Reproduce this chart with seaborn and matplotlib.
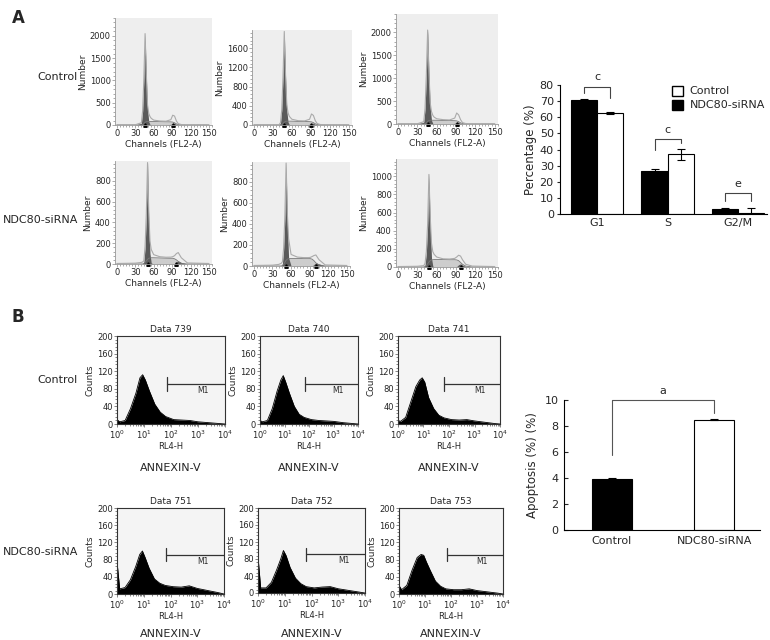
import numpy as np
import pandas as pd
import seaborn as sns
import matplotlib.pyplot as plt
from matplotlib.patches import Patch
from matplotlib.ticker import MultipleLocator, LogLocator, NullFormatter

# ---- cell cycle histograms (panel A), channel grid shared by all six
ch = [0, 30, 40, 42, 44, 46, 48, 50, 52, 54, 56, 60, 70, 80, 88, 91, 94, 97, 100, 105, 115, 150]

ctrl1_total = [5, 5, 50, 320, 1050, 2050, 1150, 450, 260, 190, 150, 110, 90, 85, 120, 220, 200, 90, 30, 10, 5, 5]
ctrl1_dip = [0, 0, 40, 300, 1000, 2050, 1100, 350, 80, 10, 0, 0, 0, 0, 15, 40, 35, 10, 0, 0, 0, 0]
ctrl1_s = [0, 0, 0, 5, 30, 60, 75, 80, 80, 80, 80, 80, 75, 72, 70, 65, 50, 25, 10, 0, 0, 0]

ctrl2_total = [5, 5, 8, 50, 320, 1020, 1950, 1050, 420, 250, 180, 120, 90, 85, 120, 230, 200, 90, 30, 10, 5, 5]
ctrl2_dip = [0, 0, 0, 40, 300, 1000, 1950, 1000, 300, 60, 5, 0, 0, 0, 15, 40, 35, 10, 0, 0, 0, 0]
ctrl2_s = [0, 0, 0, 0, 5, 30, 60, 75, 80, 80, 80, 80, 75, 72, 70, 65, 50, 25, 10, 0, 0, 0]

ctrl3_total = [5, 5, 50, 340, 1080, 2050, 1150, 460, 270, 190, 150, 115, 95, 88, 130, 240, 200, 95, 30, 10, 5, 5]
ctrl3_dip = [0, 0, 40, 320, 1050, 2050, 1100, 360, 80, 10, 0, 0, 0, 0, 15, 45, 35, 10, 0, 0, 0, 0]
ctrl3_s = [0, 0, 0, 5, 30, 60, 75, 82, 82, 82, 82, 82, 78, 75, 72, 68, 52, 25, 10, 0, 0, 0]

si1_total = [5, 8, 15, 20, 30, 170, 480, 975, 500, 220, 140, 90, 70, 65, 66, 70, 80, 100, 110, 60, 10, 5]
si1_dip = [0, 0, 0, 0, 20, 150, 450, 975, 400, 100, 10, 0, 0, 0, 0, 0, 5, 20, 30, 15, 0, 0]
si1_s = [0, 0, 0, 0, 5, 15, 30, 45, 55, 58, 60, 60, 58, 56, 55, 55, 50, 40, 25, 5, 0, 0]

si2_total = [5, 8, 15, 20, 25, 40, 170, 480, 980, 500, 260, 110, 85, 80, 80, 82, 90, 100, 105, 60, 10, 5]
si2_dip = [0, 0, 0, 0, 0, 20, 150, 450, 980, 400, 80, 0, 0, 0, 0, 0, 0, 15, 30, 20, 0, 0]
si2_s = [0, 0, 0, 0, 0, 5, 15, 35, 55, 65, 70, 72, 72, 70, 70, 70, 65, 50, 30, 10, 0, 0]

si3_total = [5, 8, 15, 40, 170, 480, 1020, 560, 260, 170, 140, 110, 90, 88, 95, 110, 130, 120, 80, 30, 10, 5]
si3_dip = [0, 0, 0, 20, 150, 450, 1020, 450, 100, 10, 0, 0, 0, 0, 0, 5, 25, 35, 20, 5, 0, 0]
si3_s = [0, 0, 0, 5, 15, 35, 55, 70, 78, 80, 82, 82, 82, 80, 80, 78, 70, 50, 30, 10, 0, 0]

g1_pos = [46, 48, 46, 50, 52, 48]
g2_pos = [91, 91, 91, 97, 100, 97]

# ---- phase percentages
phases = ['G1', 'S', 'G2/M']
si_pct = [70.5, 26.5, 3.0]
si_err = [1.0, 1.5, 1.0]
ctrl_pct = [62.5, 37.0, 0.8]
ctrl_err = [0.5, 3.5, 3.0]
phase_sig = ['c', 'c', 'e']

# ---- annexin histograms (panel B), log10 grid
lg = [0, 0.1, 0.3, 0.5, 0.7, 0.85, 0.95, 1.05, 1.2, 1.4, 1.6, 1.8, 2.1, 2.4, 2.7, 3.0, 3.4, 3.8, 4.0]
d739 = [10, 5, 8, 35, 70, 105, 112, 100, 75, 45, 27, 17, 10, 9, 8, 5, 3, 1, 0]
d740 = [8, 5, 8, 35, 75, 100, 110, 95, 70, 40, 22, 15, 10, 8, 7, 6, 3, 1, 0]
d741 = [8, 6, 15, 50, 85, 100, 105, 95, 60, 35, 20, 14, 10, 9, 10, 7, 4, 1, 0]
d751 = [75, 12, 15, 33, 64, 92, 100, 85, 60, 35, 25, 20, 17, 16, 19, 13, 8, 3, 0]
d752 = [85, 12, 12, 25, 55, 80, 100, 88, 60, 35, 22, 15, 12, 14, 15, 10, 6, 2, 0]
d753 = [20, 10, 20, 55, 85, 92, 90, 75, 55, 30, 18, 12, 10, 10, 12, 8, 5, 2, 0]
m1_start = [1.85, 1.83, 1.8, 1.82, 1.8, 1.85]

# ---- apoptosis
apo_groups = ['Control', 'NDC80-siRNA']
apo_vals = [3.9, 8.5]
apo_err = [0.1, 0.05]

sns.set_theme(style="white")
plt.rcParams['font.family'] = ['DejaVu Sans']

W, H = 770, 640
fig = plt.figure(figsize=(7.7, 6.4), dpi=100)


def rect(x0, y0, x1, y1):
    return [x0 / W, 1 - y1 / H, (x1 - x0) / W, (y1 - y0) / H]


def cycle_panel(box, total, dip, sph, ytop, ystep, g1, g2):
    ax = fig.add_axes(rect(*box))
    ax.set_facecolor('#eeeeee')
    ax.fill_between(ch, sph, color='#cdcdcd', lw=0)
    ax.plot(ch, sph, color='#777777', lw=0.6)
    ax.fill_between(ch, dip, color='#5a5a5a', lw=0)
    sns.lineplot(x=ch, y=total, ax=ax, color='#aaaaaa', lw=0.8)
    ax.plot([g1, g2], [0, 0], ls='none', marker='^', color='black', ms=2.5, clip_on=False)
    ax.set_xlim(-3, 155)
    ax.set_ylim(0, ytop)
    ax.set_xticks([0, 30, 60, 90, 120, 150])
    ax.xaxis.set_minor_locator(MultipleLocator(5))
    ax.yaxis.set_major_locator(MultipleLocator(ystep))
    ax.yaxis.set_minor_locator(MultipleLocator(ystep / 5))
    for s in ['top', 'right']:
        ax.spines[s].set_visible(False)
    for s in ['left', 'bottom']:
        ax.spines[s].set_color('#999999')
        ax.spines[s].set_linewidth(0.6)
    ax.tick_params(which='both', direction='out', length=2, width=0.5, color='#888888',
                   labelsize=6, pad=1, left=True, bottom=True)
    ax.tick_params(which='minor', length=1.2)
    ax.set_xlabel('Channels (FL2-A)', fontsize=6.5, labelpad=1)
    ax.set_ylabel('Number', fontsize=6.5, labelpad=2)
    return ax


cycle_panel((115, 18, 212, 125), ctrl1_total, ctrl1_dip, ctrl1_s, 2400, 500, g1_pos[0], g2_pos[0])
cycle_panel((252, 30, 352, 125), ctrl2_total, ctrl2_dip, ctrl2_s, 1980, 400, g1_pos[1], g2_pos[1])
cycle_panel((396, 14, 498, 124), ctrl3_total, ctrl3_dip, ctrl3_s, 2400, 500, g1_pos[2], g2_pos[2])
cycle_panel((115, 161, 212, 264), si1_total, si1_dip, si1_s, 990, 200, g1_pos[3], g2_pos[3])
cycle_panel((252, 162, 350, 266), si2_total, si2_dip, si2_s, 990, 200, g1_pos[4], g2_pos[4])
cycle_panel((396, 159, 498, 267), si3_total, si3_dip, si3_s, 1190, 200, g1_pos[5], g2_pos[5])


def annexin_panel(box, counts, title, m1):
    ax = fig.add_axes(rect(*box))
    ax.set_facecolor('#f4f4f4')
    x = 10 ** np.array(lg)
    ax.fill_between(x, counts, color='black', lw=0)
    sns.lineplot(x=x, y=counts, ax=ax, color='black', lw=0.6)
    ax.set_xscale('log')
    ax.set_xlim(1, 1e4)
    ax.set_ylim(0, 200)
    ax.set_yticks(range(0, 201, 40))
    ax.yaxis.set_minor_locator(MultipleLocator(8))
    ax.xaxis.set_major_locator(LogLocator(base=10, numticks=6))
    ax.xaxis.set_minor_locator(LogLocator(base=10, subs=np.arange(2, 10), numticks=20))
    ax.xaxis.set_minor_formatter(NullFormatter())
    for s in ax.spines.values():
        s.set_color('#333333')
        s.set_linewidth(0.8)
    ax.tick_params(which='both', direction='out', length=2, width=0.5, color='#555555',
                   labelsize=6, pad=1, left=True, bottom=True)
    ax.tick_params(which='minor', length=1.2)
    xm = 10 ** m1
    ax.plot([xm, xm], [76, 106], color='#333333', lw=0.9)
    ax.plot([xm, 1e4], [91, 91], color='#333333', lw=0.9)
    ax.text(10 ** 3.2, 76, 'M1', ha='center', va='center', fontsize=5.5)
    ax.set_title(title, fontsize=6.5, pad=3)
    ax.set_xlabel('RL4-H', fontsize=6, labelpad=1)
    ax.set_ylabel('Counts', fontsize=6.5, labelpad=2)
    return ax


b_boxes = [(117, 336, 225, 424), (260, 336, 358, 424), (398, 336, 500, 424),
           (117, 508, 224, 594), (258, 508, 365, 593), (399, 508, 503, 594)]
b_data = [d739, d740, d741, d751, d752, d753]
b_titles = ['Data 739', 'Data 740', 'Data 741', 'Data 751', 'Data 752', 'Data 753']
for i in range(6):
    annexin_panel(b_boxes[i], b_data[i], b_titles[i], m1_start[i])
    bx = b_boxes[i]
    ylab = 468 if i < 3 else 634
    fig.text((bx[0] + bx[2]) / 2 / W, 1 - ylab / H, 'ANNEXIN-V', ha='center', va='center', fontsize=8)

# ---- bar chart A
ax = fig.add_axes(rect(560, 85, 767, 214))
df = pd.DataFrame({'phase': phases * 2,
                   'group': ['NDC80-siRNA'] * 3 + ['Control'] * 3,
                   'pct': si_pct + ctrl_pct})
sns.barplot(data=df, x='phase', y='pct', hue='group', hue_order=['NDC80-siRNA', 'Control'],
            palette=['black', 'white'], edgecolor='black', linewidth=0.8, width=0.74,
            errorbar=None, legend=False, ax=ax)
centers = []
for cont, errs in zip(ax.containers, [si_err, ctrl_err]):
    xs = [b.get_x() + b.get_width() / 2 for b in cont]
    hs = [b.get_height() for b in cont]
    centers.append(xs)
    ax.errorbar(xs, hs, yerr=errs, fmt='none', ecolor='black', elinewidth=0.8, capsize=3, capthick=0.8)
br_top = [79, 46.3, 12.8]
br_left = [75, 39.7, 8.3]
br_right = [72, 43.8, 8.3]
for i in range(3):
    xl, xr = centers[0][i], centers[1][i]
    ax.plot([xl, xl, xr, xr], [br_left[i], br_top[i], br_top[i], br_right[i]],
            color='#444444', lw=0.8, clip_on=False)
    ax.text((xl + xr) / 2, br_top[i] + 3, phase_sig[i], ha='center', va='bottom', fontsize=8)
ax.set_xlim(-0.525, 2.41)
ax.set_ylim(0, 80)
ax.set_yticks(range(0, 81, 10))
ax.set_xlabel('')
ax.set_ylabel('Percentage (%)', fontsize=8.5, labelpad=2)
ax.tick_params(axis='y', direction='out', length=2.5, width=0.8, labelsize=8, pad=2, left=True)
ax.tick_params(axis='x', length=0, labelsize=8, pad=3)
for s in ['top', 'right']:
    ax.spines[s].set_visible(False)
for s in ['left', 'bottom']:
    ax.spines[s].set_color('black')
    ax.spines[s].set_linewidth(0.8)
handles = [Patch(facecolor='white', edgecolor='black', label='Control'),
           Patch(facecolor='black', edgecolor='black', label='NDC80-siRNA')]
ax.legend(handles=handles, loc='upper left', bbox_to_anchor=(0.52, 1.03), frameon=False,
          fontsize=8, handlelength=1.0, handleheight=1.0, handletextpad=0.6, labelspacing=0.3,
          borderaxespad=0)

# ---- bar chart B
ax = fig.add_axes(rect(564, 400, 760, 530))
sns.barplot(x=apo_groups, y=apo_vals, hue=apo_groups, palette=['black', 'white'],
            edgecolor='black', linewidth=0.8, width=0.39, errorbar=None, legend=False, ax=ax)
bars = [b for c in ax.containers for b in c]
bx = [b.get_x() + b.get_width() / 2 for b in bars]
ax.errorbar(bx, apo_vals, yerr=apo_err, fmt='none', ecolor='black', elinewidth=0.8, capsize=3, capthick=0.8)
ax.plot([bx[0], bx[0], bx[1], bx[1]], [5.8, 10, 10, 9.0], color='#555555', lw=0.8, clip_on=False)
ax.text((bx[0] + bx[1]) / 2, 10.3, 'a', ha='center', va='bottom', fontsize=8)
ax.set_xlim(-0.47, 1.45)
ax.set_ylim(0, 10)
ax.set_yticks(range(0, 11, 2))
ax.set_ylabel('Apoptosis (%) (%)', fontsize=8.5, labelpad=4)
ax.tick_params(axis='y', direction='in', length=3, width=0.8, labelsize=8, pad=4, left=True)
ax.tick_params(axis='x', length=0, labelsize=8, pad=4)
for s in ['top', 'right']:
    ax.spines[s].set_visible(False)
for s in ['left', 'bottom']:
    ax.spines[s].set_color('black')
    ax.spines[s].set_linewidth(0.8)

# ---- labels
fig.text(18 / W, 1 - 18 / H, 'A', fontsize=12, fontweight='bold', ha='center', va='center')
fig.text(18 / W, 1 - 317 / H, 'B', fontsize=12, fontweight='bold', ha='center', va='center')
fig.text(78 / W, 1 - 77 / H, 'Control', fontsize=8, ha='right', va='center')
fig.text(78 / W, 1 - 220 / H, 'NDC80-siRNA', fontsize=8, ha='right', va='center')
fig.text(78 / W, 1 - 380 / H, 'Control', fontsize=8, ha='right', va='center')
fig.text(78 / W, 1 - 552 / H, 'NDC80-siRNA', fontsize=8, ha='right', va='center')

fig.savefig('out.png', dpi=100)
